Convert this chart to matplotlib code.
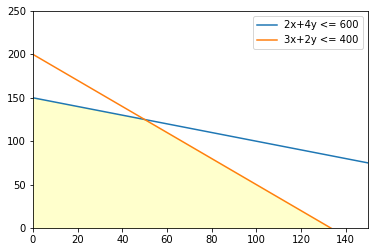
import numpy as np
import matplotlib
matplotlib.use("Agg")
import matplotlib.pyplot as plt

# end points of the constraint lines
x_line = [0, 150]
y_c1 = [150, 75]      # 2x+4y <= 600
y_c2 = [200, -25]     # 3x+2y <= 400

# feasible region corners (upper boundary)
x_fill = [0, 50, 133.3]
y_fill = [150, 125, 0]

fig = plt.figure(figsize=(375 / 72, 252 / 72), dpi=72)
ax = fig.add_axes([33 / 375, 24 / 252, 335 / 375, 217 / 252])

ax.fill_between(x_fill, 0, y_fill, color='yellow', alpha=0.2)
ax.plot(x_line, y_c1, label='2x+4y <= 600')
ax.plot(x_line, y_c2, label='3x+2y <= 400')

ax.set_xlim(0, 150)
ax.set_ylim(0, 250)
ax.legend()

fig.savefig('out.png', dpi=72)
